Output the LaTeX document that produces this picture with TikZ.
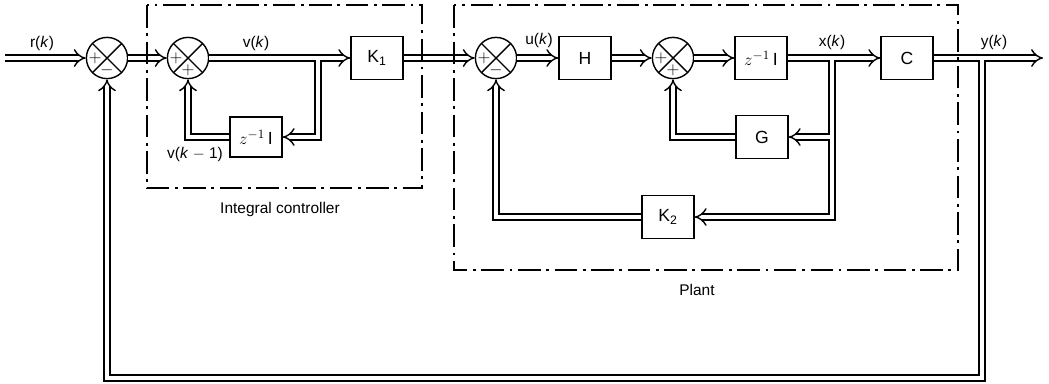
\documentclass[tikz,border=0pt]{standalone}
\usepackage{fontspec}
\setmainfont{Liberation Sans}
\usetikzlibrary{arrows.meta}

\begin{document}
\begin{tikzpicture}[x=0.025cm,y=-0.025cm,>={Implies[scale=1.9]},font=\fontsize{11}{13}\selectfont,
 pipe/.style={draw,line width=1pt,double=white,double distance=3.4pt,->},
 pipe fill/.style={white,line width=3.4pt},
 blk/.style={draw,line width=1pt,minimum width=1.3cm,minimum height=1.075cm,inner sep=0pt,font=\fontsize{12.5}{14}\selectfont},
 sumj/.style={circle,draw,line width=1pt,minimum size=1.03cm,inner sep=0pt,
  path picture={\draw[line width=1pt] (path picture bounding box.north west) -- (path picture bounding box.south east)
   (path picture bounding box.north east) -- (path picture bounding box.south west);
   \node[font=\fontsize{13}{13}\selectfont] at ([xshift=-0.3cm]path picture bounding box.center) {$+$};
   \node[font=\fontsize{13}{13}\selectfont] at ([yshift=-0.3cm]path picture bounding box.center) {#1};}},
 region/.style={line width=0.8pt,dash pattern=on 16pt off 4pt on 2pt off 4pt}]
\useasboundingbox (0,0) rectangle (1049,383);
\coordinate (rin) at (5,58);
\node[sumj=$-$] (s1) at (107,58) {};
\node[sumj=$+$] (s2) at (188,58) {};
\node[blk] (k1) at (377,58) {K\textsubscript{1}};
\node[blk,minimum height=1cm] (zi1) at (256,137) {$z^{-1}$\,I};
\node[sumj=$-$] (s3) at (496,58) {};
\node[blk] (h) at (585,58) {H};
\node[sumj=$+$] (s4) at (673,58) {};
\node[blk] (zi2) at (761,58) {$z^{-1}$\,I};
\node[blk] (c) at (907,58) {C};
\node[blk] (g) at (762,137) {G};
\node[blk] (k2) at (668,217) {K\textsubscript{2}};
\coordinate (yout) at (1043,58);
\coordinate (jv) at (318,58);
\coordinate (jx) at (832,58);
\coordinate (jg) at (832,137);
\coordinate (jy) at (982,58);
\coordinate (fb) at (982,378);
\draw[pipe] (rin) -- (s1);
\draw[pipe] (s1) -- (s2);
\draw[pipe] (s2) -- (k1);
\draw[pipe] (jv) |- (zi1);
\draw[pipe] (zi1) -| (s2);
\draw[pipe] (k1) -- (s3);
\draw[pipe] (s3) -- (h);
\draw[pipe] (h) -- (s4);
\draw[pipe] (s4) -- (zi2);
\draw[pipe] (zi2) -- (c);
\draw[pipe] (c) -- (yout);
\draw[pipe] (jx) |- (k2);
\draw[pipe] (jg) -- (g);
\draw[pipe] (g) -| (s4);
\draw[pipe] (k2) -| (s3);
\draw[pipe] (jy) -- (fb) -| (s1);
\foreach \j in {jv,jx,jy} \draw[pipe fill] ([xshift=-3.2pt]\j) -- ([xshift=3.2pt]\j);
\draw[pipe fill] ([yshift=-3.2pt]jg) -- ([yshift=3.2pt]jg);
\draw[region] (147,5) rectangle (422,188);
\draw[region] (454,5) rectangle (958,270);
\node (lr) at (42,43) {r(\textit{k})};
\node (lv) at (256,43) {v(\textit{k})};
\node (lv1) at (195,154) {v(\textit{k} $-$ 1)};
\node (lu) at (539,40) {u(\textit{k})};
\node (lx) at (832,42) {x(\textit{k})};
\node (ly) at (994,42) {y(\textit{k})};
\node (lic) at (280,209) {Integral controller};
\node (lpl) at (697,290) {Plant};
\end{tikzpicture}
\end{document}
